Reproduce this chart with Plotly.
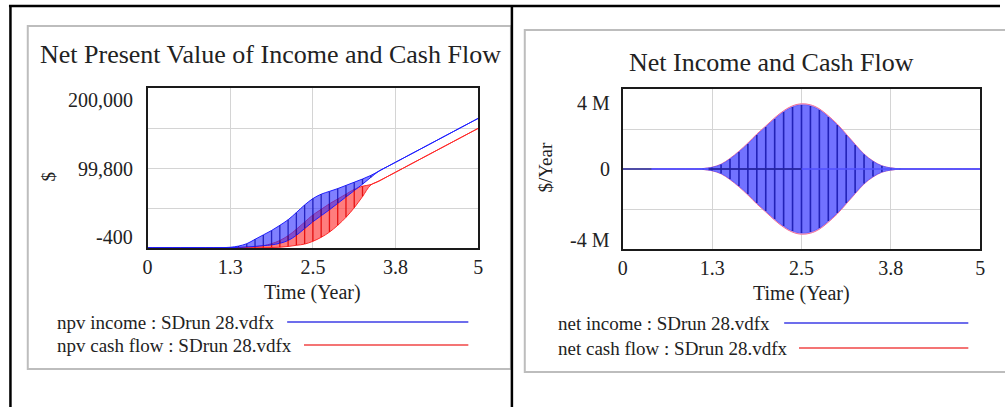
import plotly.graph_objects as go

W, H = 1005, 407

# ---- time axis (years), saved every 1/8 year ----
time = [0, 0.125, 0.25, 0.375, 0.5, 0.625, 0.75, 0.875,
        1.0, 1.125, 1.25, 1.375, 1.5, 1.625, 1.75, 1.875,
        2.0, 2.125, 2.25, 2.375, 2.5, 2.625, 2.75, 2.875,
        3.0, 3.125, 3.25, 3.375, 3.5, 3.625, 3.75, 3.875,
        4.0, 4.125, 4.25, 4.375, 4.5, 4.625, 4.75, 4.875, 5.0]

# ---- npv ($): oscillation band, upper and lower edge ----
npv_income_hi = [0, 0, 0, 0, 0, 0, 0, 0,
                 0, 100, 500, 2000, 5000, 10500, 16000, 21500,
                 28000, 35000, 44000, 53500, 61500, 67000, 70500, 74000,
                 78000, 82000, 86000, 90500, 96000, 101500, 107000, 112500,
                 118000, 123500, 129000, 134500, 140000, 145500, 151000, 156500, 162000]
npv_income_lo = [0, 0, 0, 0, 0, 0, 0, 0,
                 0, 0, 100, 400, 900, 1600, 2500, 3500,
                 5500, 9000, 15500, 24000, 32500, 40000, 47500, 55500,
                 63500, 71500, 79500, 88000, 96000, 101500, 107000, 112500,
                 118000, 123500, 129000, 134500, 140000, 145500, 151000, 156500, 162000]
npv_cash_hi = [0, 0, 0, 0, 0, 0, 0, 0,
               0, 0, 0, 200, 600, 1200, 2500, 5000,
               9000, 15000, 23000, 32000, 41000, 48000, 55000, 61000,
               67000, 73000, 77000, 79000, 83500, 89000, 94500, 100000,
               105500, 111000, 116500, 122000, 127500, 133000, 138500, 144000, 149500]
npv_cash_lo = [0, 0, 0, 0, 0, 0, 0, 0,
               0, 0, 0, 0, 0, 0, 0, 200,
               600, 1500, 3000, 4500, 8000, 13000, 19500, 28000,
               38000, 50000, 64000, 78500, 83500, 89000, 94500, 100000,
               105500, 111000, 116500, 122000, 127500, 133000, 138500, 144000, 149500]

# ---- flows ($/Year): oscillation band, upper and lower edge ----
net_income_hi = [0, 0, 0, 0, 0, 0, 0, 0,
                 0, 20000, 80000, 220000, 500000, 850000, 1250000, 1700000,
                 2100000, 2500000, 2850000, 3100000, 3200000, 3150000, 2950000, 2600000,
                 2200000, 1700000, 1200000, 720000, 380000, 150000, 50000, 10000,
                 0, 0, 0, 0, 0, 0, 0, 0, 0]
net_income_lo = [0, 0, 0, 0, 0, 0, 0, 0,
                 0, -20000, -80000, -220000, -500000, -850000, -1250000, -1700000,
                 -2100000, -2500000, -2850000, -3100000, -3200000, -3150000, -2950000, -2600000,
                 -2200000, -1700000, -1200000, -720000, -380000, -150000, -50000, -10000,
                 0, 0, 0, 0, 0, 0, 0, 0, 0]
net_cash_hi = [0, 0, 0, 0, 0, 0, 0, 0,
               0, 25000, 90000, 240000, 530000, 890000, 1300000, 1750000,
               2150000, 2560000, 2910000, 3160000, 3260000, 3210000, 3010000, 2660000,
               2250000, 1750000, 1240000, 750000, 400000, 160000, 55000, 12000,
               0, 0, 0, 0, 0, 0, 0, 0, 0]
net_cash_lo = [0, 0, 0, 0, 0, 0, 0, 0,
               0, -25000, -90000, -240000, -530000, -890000, -1300000, -1750000,
               -2150000, -2560000, -2910000, -3160000, -3260000, -3210000, -3010000, -2660000,
               -2250000, -1750000, -1240000, -750000, -400000, -160000, -55000, -12000,
               0, 0, 0, 0, 0, 0, 0, 0, 0]

x_ticks = [0, 1.25, 2.5, 3.75, 5]
x_tick_text = ["0", "1.3", "2.5", "3.8", "5"]
npv_range = [-400, 200000]
npv_tick_text = ["200,000", "99,800", "-400"]
flow_range = [-4000000, 4000000]
flow_tick_text = ["4 M", "0", "-4 M"]

FONT = "Liberation Serif"
TXT = "#222222"
BLUE = "rgb(30,30,255)"
RED = "rgb(255,40,40)"


def px(x):
    return x / W


def py(y):
    return 1 - y / H


fig = go.Figure()


def band_fill(xa, ya, hi, lo, line_col, fill_col):
    # lower edge, then upper edge filled down to it
    fig.add_trace(go.Scatter(x=time, y=lo, mode="lines", xaxis=xa, yaxis=ya,
                             line=dict(color=line_col, width=1, shape="spline"),
                             showlegend=False, hoverinfo="skip"))
    fig.add_trace(go.Scatter(x=time, y=hi, mode="lines", xaxis=xa, yaxis=ya,
                             fill="tonexty", fillcolor=fill_col,
                             line=dict(color=line_col, width=1, shape="spline"),
                             showlegend=False, hoverinfo="skip"))


def band_strokes(xa, ya, hi, lo, col, w):
    # vertical strokes of the oscillation at each saved step
    sx, sy = [], []
    for t, h, l in zip(time, hi, lo):
        if h != l:
            sx += [t, t, None]
            sy += [l, h, None]
    fig.add_trace(go.Scatter(x=sx, y=sy, mode="lines", xaxis=xa, yaxis=ya,
                             line=dict(color=col, width=w),
                             showlegend=False, hoverinfo="skip"))


# left: npv
band_fill("x", "y", npv_cash_hi, npv_cash_lo, RED, "rgba(255,70,70,0.7)")
band_fill("x", "y", npv_income_hi, npv_income_lo, BLUE, "rgba(50,50,255,0.62)")
band_strokes("x", "y", npv_cash_hi, npv_cash_lo, "rgba(225,0,0,0.85)", 1.3)
band_strokes("x", "y", npv_income_hi, npv_income_lo, "rgba(20,20,180,0.85)", 1.3)

# right: flows
band_fill("x2", "y2", net_cash_hi, net_cash_lo, "rgb(240,110,150)", "rgba(255,120,160,0.5)")
band_fill("x2", "y2", net_income_hi, net_income_lo, "rgba(90,90,255,0.9)", "rgb(114,114,255)")
band_strokes("x2", "y2", net_income_hi, net_income_lo, "rgba(25,25,175,0.9)", 1.6)
fig.add_trace(go.Scatter(x=[0, 5], y=[0, 0], mode="lines", xaxis="x2", yaxis="y2",
                         line=dict(color="rgb(80,80,255)", width=1.5),
                         showlegend=False, hoverinfo="skip"))
fig.add_trace(go.Scatter(x=[0, 0.4], y=[0, 0], mode="lines", xaxis="x2", yaxis="y2",
                         line=dict(color="rgba(70,70,110,0.8)", width=1.5),
                         showlegend=False, hoverinfo="skip"))
fig.add_trace(go.Scatter(x=[1.2, 2.5], y=[0, 0], mode="lines", xaxis="x2", yaxis="y2",
                         line=dict(color="rgba(20,20,120,0.85)", width=1.6),
                         showlegend=False, hoverinfo="skip"))

axis_common = dict(showgrid=True, gridcolor="#d4d4d4", gridwidth=1, zeroline=False,
                   showline=True, mirror=True, linecolor="#1a1a1a", linewidth=2,
                   ticks="", fixedrange=True)

L = dict(x0=144, x1=478, y0=88, y1=248)
R = dict(x0=624, x1=985, y0=89, y1=249)

fig.update_layout(
    width=W, height=H, margin=dict(l=0, r=0, t=0, b=0),
    paper_bgcolor="white", plot_bgcolor="white", showlegend=False,
    xaxis=dict(domain=[px(L["x0"]), px(L["x1"])], range=[0, 5], anchor="y",
               tickvals=x_ticks, ticktext=x_tick_text,
               tickfont=dict(family=FONT, size=20, color=TXT), **axis_common),
    yaxis=dict(domain=[py(L["y1"]), py(L["y0"])], range=npv_range, anchor="x",
               tickvals=[-400, 49700, 99800, 149900, 200000], showticklabels=False,
               **axis_common),
    xaxis2=dict(domain=[px(R["x0"]), px(R["x1"])], range=[0, 5], anchor="y2",
                tickvals=x_ticks, ticktext=x_tick_text,
                tickfont=dict(family=FONT, size=20, color=TXT), **axis_common),
    yaxis2=dict(domain=[py(R["y1"]), py(R["y0"])], range=flow_range, anchor="x2",
                tickvals=[-4000000, -2000000, 0, 2000000, 4000000], showticklabels=False,
                **axis_common),
)

ann = []


def text(x, y, s, size=19, xanchor="center", angle=0):
    ann.append(dict(x=px(x), y=py(y), xref="paper", yref="paper", text=s, showarrow=False,
                    xanchor=xanchor, yanchor="middle", textangle=angle, borderpad=0,
                    font=dict(family=FONT, size=size, color=TXT)))


# titles
text(268, 55, "Net Present Value of Income and Cash Flow", size=26)
text(774, 62, "Net Income and Cash Flow", size=26)

# y tick labels (top label sits just under the frame, bottom just above it)
for lab, yy in zip(npv_tick_text, [100, 169, 237]):
    text(130, yy, lab, size=20, xanchor="right")
for lab, yy in zip(flow_tick_text, [103, 169, 240]):
    text(612, yy, lab, size=20, xanchor="right")

# axis titles
text(43, 177, "$", angle=-90)
text(545, 168, "$/Year", angle=-90)
text(311, 292, "Time (Year)", size=20)
text(804, 293, "Time (Year)", size=20)

# legends
text(52, 322, "npv income : SDrun 28.vdfx", size=19, xanchor="left")
text(52, 345, "npv cash flow : SDrun 28.vdfx", size=19, xanchor="left")
text(558, 323, "net income : SDrun 28.vdfx", size=19, xanchor="left")
text(558, 348, "net cash flow : SDrun 28.vdfx", size=19, xanchor="left")

fig.update_layout(annotations=ann)

shapes = []


def seg(x0, y0, x1, y1, color, width):
    shapes.append(dict(type="line", xref="paper", yref="paper",
                       x0=px(x0), y0=py(y0), x1=px(x1), y1=py(y1),
                       line=dict(color=color, width=width)))


seg(285, 322, 468, 322, "rgb(60,60,230)", 1.5)
seg(302, 345, 468, 345, "rgb(240,70,70)", 1.5)
seg(787, 323, 973, 323, "rgb(60,60,230)", 1.5)
seg(802, 348, 973, 348, "rgb(240,70,70)", 1.5)

# panel frames
shapes.append(dict(type="rect", xref="paper", yref="paper",
                   x0=px(23), y0=py(369), x1=px(511), y1=py(26),
                   line=dict(color="#bdbdbd", width=2), layer="below"))
shapes.append(dict(type="rect", xref="paper", yref="paper",
                   x0=px(525), y0=py(372), x1=px(1012), y1=py(30),
                   line=dict(color="#bdbdbd", width=2), layer="below"))

# outer table rules
seg(4, 6, 1005, 6, "#000000", 2.5)
seg(5.5, 6, 5.5, 407, "#000000", 2.5)
seg(512, 6, 512, 407, "#000000", 2.5)

fig.update_layout(shapes=shapes)

fig.write_html("out.html")
